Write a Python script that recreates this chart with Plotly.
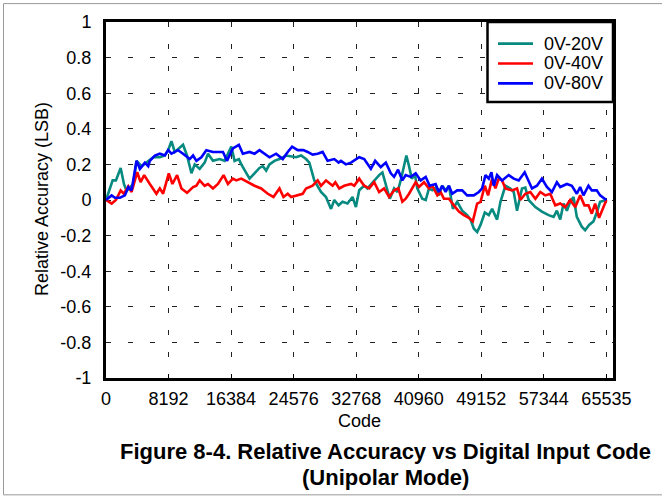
import plotly.graph_objects as go

# Relative accuracy (LSB) versus DAC input code for three unipolar output ranges
code_20v = [0, 870, 1300, 1920, 2350, 2700, 3570, 4000, 4660, 5310, 6180, 7050, 7700, 8140,
            8570, 9010, 9570, 10090, 10610, 11190, 11620, 12270, 12920, 13360, 14010, 14880,
            15540, 16410, 16840, 17400, 17720, 18370, 18800, 19450, 20100, 20540, 20980, 21410,
            22060, 22720, 23590, 24900, 25550, 26200, 26630, 27280, 28160, 28810, 29470, 29900,
            30460, 30980, 31630, 32290, 32730, 33160, 33810, 34240, 34900, 35770, 36200, 36550,
            37170, 37730, 38170, 38600, 39340, 39690, 40040, 40470, 40770, 41420, 41870, 42300,
            42730, 43170, 43600, 44030, 44480, 44910, 45430, 45990, 46650, 47300, 47740, 48170,
            48610, 49050, 49610, 50130, 50570, 51220, 51660, 52310, 52960, 53400, 53830, 54480,
            54920, 55350, 56230, 57090, 57960, 58620, 59050, 59490, 59920, 60360, 60790, 61230,
            61660, 62310, 62750, 63270, 63840, 64270, 64710, 65535]
acc_20v = [0.0, 0.11, 0.11, 0.18, 0.09, 0.05, 0.09, 0.22, 0.19, 0.21, 0.24, 0.24, 0.25, 0.28,
           0.33, 0.27, 0.29, 0.31, 0.25, 0.15, 0.20, 0.175, 0.21, 0.26, 0.22, 0.23,
           0.22, 0.30, 0.22, 0.23, 0.20, 0.15, 0.12, 0.15, 0.18, 0.19, 0.165, 0.20,
           0.22, 0.23, 0.25, 0.24, 0.25, 0.23, 0.21, 0.11, 0.045, 0.017, -0.05, 0.0,
           -0.03, -0.01, -0.02, 0.017, -0.04, 0.055, 0.08, 0.065, 0.10, 0.14, 0.155, 0.10,
           0.007, 0.065, 0.045, 0.11, 0.25, 0.19, 0.12, 0.14, 0.065, 0.007, 0.0, 0.065,
           0.055, 0.07, 0.026, 0.08, 0.055, 0.08, -0.05, -0.01, -0.06, -0.085, -0.11, -0.16,
           -0.18, -0.14, -0.07, -0.085, -0.05, -0.11, -0.01, 0.08, 0.065, 0.045, -0.06, 0.065,
           0.07, 0.0, -0.04, -0.065, -0.085, -0.095, -0.06, -0.11, -0.02, -0.06, -0.01, 0.017,
           -0.095, -0.15, -0.17, -0.14, -0.12, -0.07, -0.01, 0.0]

code_40v = [0, 740, 1300, 1920, 2350, 2920, 3350, 4090, 4530, 5000, 5740, 6610, 7050, 7480,
            8220, 8700, 9310, 9880, 10610, 11400, 11840, 12270, 12920, 13360, 14010, 14660,
            15400, 15970, 16620, 17060, 17720, 18580, 19450, 20320, 21190, 21930, 22720, 23240,
            23800, 24240, 24900, 25760, 26200, 27060, 27720, 28160, 28810, 29680, 30030, 30550,
            31200, 32080, 32510, 33160, 33810, 34470, 35120, 35770, 36420, 37080, 37730, 38290,
            38810, 39250, 39690, 40560, 40990, 41650, 42300, 42730, 43390, 43820, 44260, 44910,
            45560, 46220, 46870, 47520, 48040, 48610, 49050, 49610, 50040, 50570, 51000, 51440,
            51870, 52310, 53180, 53830, 54270, 54920, 55570, 56230, 56880, 57530, 58180, 58840,
            59490, 60140, 60790, 61450, 62100, 62660, 63190, 63620, 64060, 64580, 65535]
acc_40v = [0.0, -0.02, 0.0, 0.054, 0.035, 0.077, 0.045, 0.156, 0.10, 0.14, 0.09, 0.035, 0.065, 0.035,
           0.15, 0.09, 0.14, 0.065, 0.04, 0.073, 0.08, 0.11, 0.08, 0.09, 0.065, 0.09,
           0.14, 0.09, 0.12, 0.11, 0.12, 0.10, 0.08, 0.065, 0.035, 0.017, 0.065, 0.017,
           0.035, 0.017, 0.026, 0.035, 0.065, 0.08, 0.11, 0.08, 0.11, 0.08, 0.10, 0.065,
           0.08, 0.09, 0.08, 0.12, 0.08, 0.065, 0.10, 0.045, 0.065, 0.017, 0.054, 0.065,
           -0.01, 0.007, 0.035, 0.10, 0.073, 0.10, 0.065, 0.08, 0.026, 0.045, 0.007, 0.007,
           -0.03, -0.065, -0.085, -0.10, -0.12, -0.02, -0.01, 0.08, 0.026, 0.12, 0.065, 0.12,
           0.11, 0.065, 0.054, 0.065, 0.0, 0.035, 0.045, 0.007, 0.045, 0.026, 0.035, -0.03,
           -0.02, -0.04, 0.0, -0.04, 0.026, -0.03, -0.03, -0.077, -0.02, -0.10, 0.0]

code_80v = [0, 740, 1170, 1830, 2480, 2920, 3350, 4000, 4440, 5090, 5530, 5740, 6400, 7050,
            7700, 8140, 8570, 9440, 10090, 10970, 11400, 11840, 12490, 13140, 14010, 15320,
            15840, 16620, 17400, 17920, 18800, 19450, 20100, 20760, 21410, 22280, 23150, 23800,
            24370, 25110, 25850, 26410, 27060, 27720, 28370, 29020, 29900, 30460, 30770, 31420,
            32080, 33160, 33810, 34690, 35250, 35990, 36650, 37300, 37730, 38250, 38810, 39250,
            39910, 40560, 41210, 41870, 42390, 43170, 43600, 44030, 44480, 44910, 45340, 45990,
            46650, 47300, 48170, 48830, 49260, 49700, 50130, 50480, 50780, 51220, 51870, 52740,
            53400, 54050, 54830, 55790, 56440, 57090, 57740, 58400, 59050, 59490, 60360, 61010,
            61660, 62100, 62530, 63190, 63620, 64270, 64710, 65535]
acc_80v = [0.0, 0.026, 0.013, 0.013, 0.026, 0.073, 0.054, 0.22, 0.175, 0.21, 0.19, 0.22, 0.25, 0.26,
           0.25, 0.28, 0.26, 0.28, 0.26, 0.23, 0.25, 0.22, 0.24, 0.28, 0.27, 0.27,
           0.22, 0.29, 0.31, 0.26, 0.27, 0.26, 0.28, 0.26, 0.24, 0.26, 0.23, 0.27,
           0.30, 0.28, 0.28, 0.27, 0.255, 0.26, 0.27, 0.22, 0.23, 0.21, 0.22, 0.20,
           0.21, 0.24, 0.23, 0.175, 0.22, 0.185, 0.21, 0.15, 0.13, 0.17, 0.11, 0.14,
           0.13, 0.15, 0.11, 0.13, 0.08, 0.09, 0.045, 0.08, 0.045, 0.08, 0.035, 0.054,
           0.054, 0.026, 0.026, 0.045, 0.065, 0.14, 0.12, 0.156, 0.08, 0.14, 0.11, 0.14,
           0.12, 0.11, 0.156, 0.065, 0.08, 0.12, 0.073, 0.045, 0.10, 0.073, 0.09, 0.08,
           0.035, 0.073, 0.026, 0.08, 0.054, 0.054, 0.026, 0.0]

x_ticks = [0, 8192, 16384, 24576, 32768, 40960, 49152, 57344, 65535]
y_ticks = [1, 0.8, 0.6, 0.4, 0.2, 0, -0.2, -0.4, -0.6, -0.8, -1]
y_tick_text = ["1", "0.8", "0.6", "0.4", "0.2", "0", "-0.2", "-0.4", "-0.6", "-0.8", "-1"]

series = [
    ("0V-20V", code_20v, acc_20v, "#078a80"),
    ("0V-40V", code_40v, acc_40v, "#ff0000"),
    ("0V-80V", code_80v, acc_80v, "#0000ff"),
]

FONT = "Arial, 'Liberation Sans', sans-serif"
W, H = 662, 497
ML, MR, MT, MB = 106, 49, 20, 119
plot_w = W - ML - MR
plot_h = H - MT - MB


def px_x(px):
    """Pixel column -> paper x."""
    return (px - ML) / plot_w


def px_y(py):
    """Pixel row -> paper y."""
    return (H - MB - py) / plot_h


fig = go.Figure()
for name, xs, ys, color in series:
    fig.add_trace(go.Scatter(x=xs, y=ys, mode="lines", name=name,
                             line=dict(color=color, width=2.6)))

fig.update_layout(
    width=W, height=H,
    margin=dict(l=ML, r=MR, t=MT, b=MB),
    paper_bgcolor="white", plot_bgcolor="white",
    font=dict(family=FONT, size=18, color="black"),
    showlegend=False,
)

fig.update_xaxes(
    range=[0, 66400], tickmode="array", tickvals=x_ticks,
    ticktext=[str(v) for v in x_ticks],
    showline=True, linecolor="black", linewidth=3, mirror=True,
    ticks="inside", ticklen=4, tickcolor="black",
    showgrid=True, gridcolor="#222222", gridwidth=1, griddash="5px,17px",
    zeroline=False, ticklabelstandoff=2,
    tickfont=dict(family=FONT, size=18, color="black"),
)
fig.update_yaxes(
    range=[-1, 1], tickmode="array", tickvals=y_ticks, ticktext=y_tick_text,
    showline=True, linecolor="black", linewidth=3, mirror=True,
    ticks="", showgrid=True, gridcolor="#222222", gridwidth=1, griddash="5px,17px",
    zeroline=False, ticklabelstandoff=8,
    tickfont=dict(family=FONT, size=18, color="black"),
)

# legend box in the top-right corner of the plot
fig.add_shape(type="rect", xref="paper", yref="paper",
              x0=px_x(487.5), x1=1, y0=px_y(100.5), y1=1,
              line=dict(color="black", width=2.5), fillcolor="white", layer="above")
legend_rows = [41.7, 61.7, 81.7]
for (name, _, _, color), row in zip(series, legend_rows):
    fig.add_shape(type="line", xref="paper", yref="paper",
                  x0=px_x(498), x1=px_x(533), y0=px_y(row), y1=px_y(row),
                  line=dict(color=color, width=2.6), layer="above")
    fig.add_annotation(text=name, x=px_x(542), y=px_y(row), xref="paper", yref="paper",
                       showarrow=False, xanchor="left", yanchor="middle",
                       font=dict(family=FONT, size=18, color="black"))

# axis titles and figure caption
fig.add_annotation(text="Code", x=px_x(359), y=px_y(421), xref="paper", yref="paper",
                   showarrow=False, font=dict(family=FONT, size=18, color="black"),
                   xanchor="center", yanchor="middle")
fig.add_annotation(text="Relative Accuracy (LSB)", x=px_x(42), y=px_y(198),
                   xref="paper", yref="paper", showarrow=False, textangle=-90,
                   font=dict(family=FONT, size=18, color="black"),
                   xanchor="center", yanchor="middle")
fig.add_annotation(text="<b>Figure 8-4. Relative Accuracy vs Digital Input Code</b>",
                   x=px_x(385), y=px_y(452), xref="paper", yref="paper", showarrow=False,
                   font=dict(family=FONT, size=22, color="black"),
                   xanchor="center", yanchor="middle")
fig.add_annotation(text="<b>(Unipolar Mode)</b>",
                   x=px_x(385), y=px_y(478), xref="paper", yref="paper", showarrow=False,
                   font=dict(family=FONT, size=22, color="black"),
                   xanchor="center", yanchor="middle")

# thin outer border of the figure
fig.add_shape(type="rect", xref="paper", yref="paper",
              x0=px_x(3.5), x1=px_x(670), y0=px_y(495.5), y1=px_y(1.5),
              line=dict(color="#999999", width=1), layer="below")

fig.write_html("out.html")
